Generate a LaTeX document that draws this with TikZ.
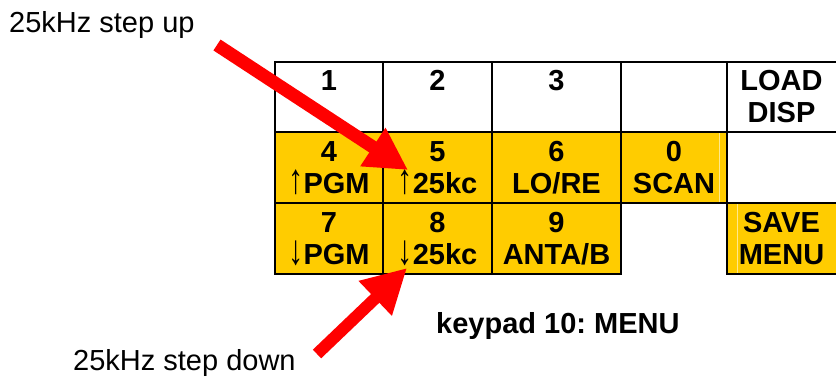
\documentclass[tikz,border=0pt]{standalone}
\usepackage{fontspec}
\setmainfont{Liberation Sans}
\usetikzlibrary{arrows.meta}
\frenchspacing
\definecolor{keyyellow}{HTML}{FFCC00}
\definecolor{arrowred}{HTML}{FF0000}
\newcommand{\uparr}{{\mdseries\scalebox{1.05}[1.45]{\char"2191}}}
\newcommand{\downarr}{{\mdseries\scalebox{1.05}[1.45]{\char"2193}}}
\tikzset{
  keytext/.style={anchor=base, inner sep=0pt, font=\fontsize{29pt}{32pt}\selectfont\bfseries},
  lbl/.style={anchor=base west, inner sep=0pt, font=\fontsize{29pt}{32pt}\selectfont},
  gridline/.style={line width=2pt, black},
  yfill/.style={fill=keyyellow, draw=none},
  faint/.style={draw=keyyellow!45!white, line width=0.8pt},
  bigarrow/.style={draw=arrowred, fill=arrowred, line width=13pt},
}
\begin{document}
\begin{tikzpicture}[x=1pt,y=-1pt]
\useasboundingbox (0,0) rectangle (836,378);
% yellow fills
\path[yfill] (275,132) rectangle (727,203);
\path[yfill] (275,203) rectangle (621,274);
\path[yfill] (727,203) rectangle (838,274);
\draw[faint] (719,133) -- (719,202);
\draw[faint] (737,204) -- (737,273);
% grid lines
\draw[gridline] (275,62) -- (838,62);
\draw[gridline] (275,132) -- (838,132);
\draw[gridline] (275,203) -- (838,203);
\draw[gridline] (275,274) -- (621,274);
\draw[gridline] (727,274) -- (838,274);
\foreach \x in {275,383,492,621,727}{\draw[gridline] (\x,61) -- (\x,275);}
% key texts
\node[keytext] (k1) at (329,90) {1};
\node[keytext] (k2) at (437.5,90) {2};
\node[keytext] (k3) at (556.5,90) {3};
\node[keytext] (kload) at (781.5,90) {LOAD};
\node[keytext] (kdisp) at (781.5,122) {DISP};
\node[keytext] (k4) at (329,161) {4};
\node[keytext] (k4b) at (329,193) {\uparr PGM};
\node[keytext] (k5) at (437.5,161) {5};
\node[keytext] (k5b) at (437.5,193) {\uparr 25kc};
\node[keytext] (k6) at (556.5,161) {6};
\node[keytext] (k6b) at (556.5,193) {LO/RE};
\node[keytext] (k0) at (674,161) {0};
\node[keytext] (k0b) at (674,193) {SCAN};
\node[keytext] (k7) at (329,232) {7};
\node[keytext] (k7b) at (329,264) {\downarr PGM};
\node[keytext] (k8) at (437.5,232) {8};
\node[keytext] (k8b) at (437.5,264) {\downarr 25kc};
\node[keytext] (k9) at (556.5,232) {9};
\node[keytext] (k9b) at (556.5,264) {ANTA/B};
\node[keytext] (ksave) at (781.5,232) {SAVE};
\node[keytext] (kmenu) at (781.5,264) {MENU};
% caption
\node[keytext, anchor=base west] (cap) at (436,333) {keypad 10: MENU};
% labels
\node[lbl] (lup) at (9,32) {25kHz step up};
\node[lbl] (ldown) at (73,370) {25kHz step down};
% arrows
\coordinate (upTail) at (217,45);
\coordinate (upTip) at (408,170);
\coordinate (downTail) at (317,354);
\coordinate (downTip) at (407,268);
\draw[bigarrow, -{Triangle[length=42pt,width=43pt]}] (upTail) -- (upTip);
\draw[bigarrow, line width=12pt, -{Triangle[length=44pt,width=45pt]}] (downTail) -- (downTip);
\end{tikzpicture}
\end{document}
